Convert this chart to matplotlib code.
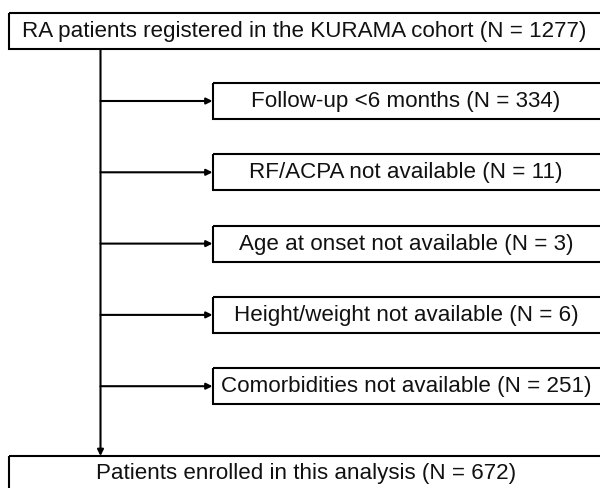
import matplotlib.pyplot as plt
from matplotlib.patches import Rectangle

# flow counts
total_n = 1277
reasons = ['Follow-up <6 months', 'RF/ACPA not available', 'Age at onset not available',
           'Height/weight not available', 'Comorbidities not available']
excluded_n = [334, 11, 3, 6, 251]
enrolled_n = 672

plt.rcParams['font.family'] = ['Liberation Sans', 'DejaVu Sans']

fig = plt.figure(figsize=(6.0, 4.88), dpi=100)
ax = fig.add_axes([0, 0, 1, 1])
ax.set_xlim(0, 600)
ax.set_ylim(488, 0)
ax.axis('off')

lw = 1.5
fs = 16.1

def box(x0, y0, x1, y1, text, tx, ty=None):
    ax.add_patch(Rectangle((x0, y0), x1 - x0, y1 - y0, fill=False, lw=lw, ec='black', clip_on=True))
    if ty is None:
        ty = (y0 + y1) / 2
    ax.text(tx, ty, text, ha='center', va='center', fontsize=fs, color='#111111')

# top box
box(8.5, 13, 640, 49, 'RA patients registered in the KURAMA cohort (N = %d)' % total_n, 304.5, 31.5)

# main vertical line with arrow to the bottom box
ax.annotate('', xy=(100.5, 456), xytext=(100.5, 49),
            arrowprops=dict(arrowstyle='-|>', lw=lw, color='black', mutation_scale=9,
                            shrinkA=0, shrinkB=0))

top0 = 83
step = 71.3
for k, (r, n) in enumerate(zip(reasons, excluded_n)):
    y0 = top0 + k * step
    y1 = y0 + 36
    yc = (y0 + y1) / 2
    box(212.5, y0, 640, y1, '%s (N = %d)' % (r, n), 406, yc + 0.5)
    ax.annotate('', xy=(212.5, yc), xytext=(100.5, yc),
                arrowprops=dict(arrowstyle='-|>', lw=lw, color='black', mutation_scale=9,
                                shrinkA=0, shrinkB=0))

# bottom box
box(8.5, 456, 640, 520, 'Patients enrolled in this analysis (N = %d)' % enrolled_n, 306, 473)

fig.savefig('out.png', dpi=100)
